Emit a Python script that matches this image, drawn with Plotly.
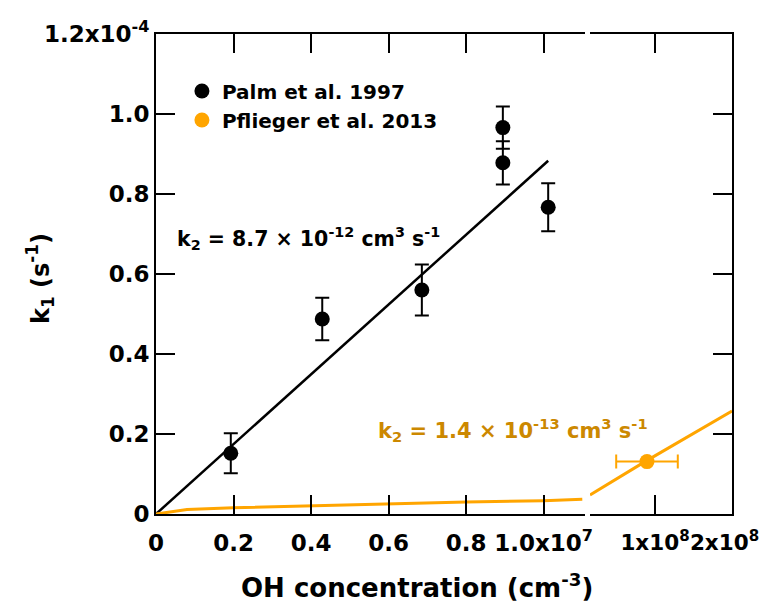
import plotly.graph_objects as go

# ---- data ----
palm_x = [0.193e7, 0.429e7, 0.686e7, 0.895e7, 0.895e7, 1.012e7]
palm_k1 = [0.152e-4, 0.4875e-4, 0.560e-4, 0.966e-4, 0.878e-4, 0.767e-4]
palm_err = [0.050e-4, 0.053e-4, 0.064e-4, 0.053e-4, 0.054e-4, 0.060e-4]

palm_fit_x = [0, 1.012e7]
palm_fit_k1 = [0, 0.883e-4]

pfl_x = [0.896e8]
pfl_k1 = [0.131e-4]
pfl_xerr = [0.40e8]

pfl_curve_left_x = [0, 0.08e7, 0.2e7, 0.4e7, 0.6e7, 0.8e7, 1.0e7, 1.1e7]
pfl_curve_left_k1 = [0, 0.011e-4, 0.0158e-4, 0.0208e-4, 0.0258e-4, 0.030e-4, 0.0333e-4, 0.0368e-4]
pfl_curve_right_x = [0.156e8, 0.87e8, 2.0e8]
pfl_curve_right_k1 = [0.0475e-4, 0.131e-4, 0.2575e-4]

y_tickvals = [0, 0.2e-4, 0.4e-4, 0.6e-4, 0.8e-4, 1.0e-4, 1.2e-4]
y_ticktext = ["0", "0.2", "0.4", "0.6", "0.8", "1.0", "1.2x10<sup>-4</sup>"]
x1_tickvals = [0, 0.2e7, 0.4e7, 0.6e7, 0.8e7, 1.0e7]
x1_ticktext = ["0", "0.2", "0.4", "0.6", "0.8", "1.0x10<sup>7</sup>"]
x2_tickvals = [1e8, 2e8]
x2_ticktext = ["1x10<sup>8</sup>", "2x10<sup>8</sup>\u00a0\u00a0"]

BLACK = "#000000"
ORANGE = "#FFA500"
DARK_ORANGE = "#CC8800"
FONT = "DejaVu Sans, Liberation Sans, Arial, sans-serif"

fig = go.Figure()

# left segment
fig.add_trace(go.Scatter(x=palm_fit_x, y=palm_fit_k1, mode="lines",
                         line=dict(color=BLACK, width=2.5), showlegend=False,
                         xaxis="x", yaxis="y"))
fig.add_trace(go.Scatter(x=pfl_curve_left_x, y=pfl_curve_left_k1, mode="lines",
                         line=dict(color=ORANGE, width=3), showlegend=False,
                         xaxis="x", yaxis="y"))
fig.add_trace(go.Scatter(x=palm_x, y=palm_k1, mode="markers", name="Palm et al. 1997",
                         marker=dict(color=BLACK, size=15),
                         error_y=dict(type="data", array=palm_err, color=BLACK,
                                      thickness=2, width=7),
                         xaxis="x", yaxis="y"))
# right segment
fig.add_trace(go.Scatter(x=pfl_curve_right_x, y=pfl_curve_right_k1, mode="lines",
                         line=dict(color=ORANGE, width=3), showlegend=False,
                         xaxis="x2", yaxis="y2"))
fig.add_trace(go.Scatter(x=pfl_x, y=pfl_k1, mode="markers", name="Pflieger et al. 2013",
                         marker=dict(color=ORANGE, size=15),
                         error_x=dict(type="data", array=pfl_xerr, color=ORANGE,
                                      thickness=2, width=7),
                         xaxis="x2", yaxis="y2"))

tickfont = dict(family=FONT, size=23, color=BLACK, weight="bold")
tickfont2 = dict(family=FONT, size=21.5, color=BLACK, weight="bold")
axis_common = dict(showline=True, linecolor=BLACK, linewidth=2, ticks="inside",
                   ticklen=19, tickwidth=2, tickcolor=BLACK, showgrid=False,
                   zeroline=False, automargin=False, tickangle=0)

# the page body adds an 8 px margin, so the figure is sized/placed to compensate
fig.update_layout(
    width=764, height=596,
    margin=dict(l=148, r=40, t=26, b=90),
    paper_bgcolor="white", plot_bgcolor="white",
    font=dict(family=FONT, color=BLACK),
    xaxis=dict(domain=[0, 0.7448], range=[0, 1.107e7], anchor="y",
               tickvals=x1_tickvals, ticktext=x1_ticktext, mirror="ticks",
               ticklabelstandoff=7, tickfont=tickfont, **axis_common),
    xaxis2=dict(domain=[0.7535, 1.0], range=[0.156e8, 2.0e8], anchor="y2",
                tickvals=x2_tickvals, ticktext=x2_ticktext, mirror="ticks",
                ticklabelstandoff=8, ticklabeloverflow="allow", tickfont=tickfont2,
                **axis_common),
    yaxis=dict(domain=[0, 1], range=[0, 1.2e-4], anchor="x",
               tickvals=y_tickvals, ticktext=y_ticktext, tickfont=tickfont, **axis_common),
    yaxis2=dict(domain=[0, 1], range=[0, 1.2e-4], anchor="x2", overlaying="y", side="right",
                tickvals=y_tickvals, showticklabels=False, tickfont=tickfont, **axis_common),
    legend=dict(x=0.045, y=0.922, xanchor="left", yanchor="top",
                bgcolor="rgba(0,0,0,0)",
                font=dict(family=FONT, size=20, color=BLACK, weight="bold"),
                tracegroupgap=0),
    annotations=[
        dict(text="k<sub>1</sub> (s<sup>-1</sup>)", x=-0.201, y=0.49, xref="paper", yref="paper",
             textangle=-90, showarrow=False, xanchor="center", yanchor="middle",
             font=dict(family=FONT, size=24, color=BLACK, weight="bold")),
        dict(text="OH concentration (cm<sup>-3</sup>)", x=0.453, y=-0.15, xref="paper", yref="paper",
             showarrow=False, xanchor="center", yanchor="middle",
             font=dict(family=FONT, size=26, color=BLACK, weight="bold")),
        dict(text="k<sub>2</sub> = 8.7 × 10<sup>-12</sup> cm<sup>3</sup> s<sup>-1</sup>",
             x=(175 - 156) / 576, y=(514 - 238) / 480, xref="paper", yref="paper",
             showarrow=False, xanchor="left", yanchor="middle",
             font=dict(family=FONT, size=20.5, color=BLACK, weight="bold")),
        dict(text="k<sub>2</sub> = 1.4 × 10<sup>-13</sup> cm<sup>3</sup> s<sup>-1</sup>",
             x=(376 - 156) / 576, y=(514 - 430) / 480, xref="paper", yref="paper",
             showarrow=False, xanchor="left", yanchor="middle",
             font=dict(family=FONT, size=21, color=DARK_ORANGE, weight="bold")),
    ],
)

fig.write_html("out.html")
